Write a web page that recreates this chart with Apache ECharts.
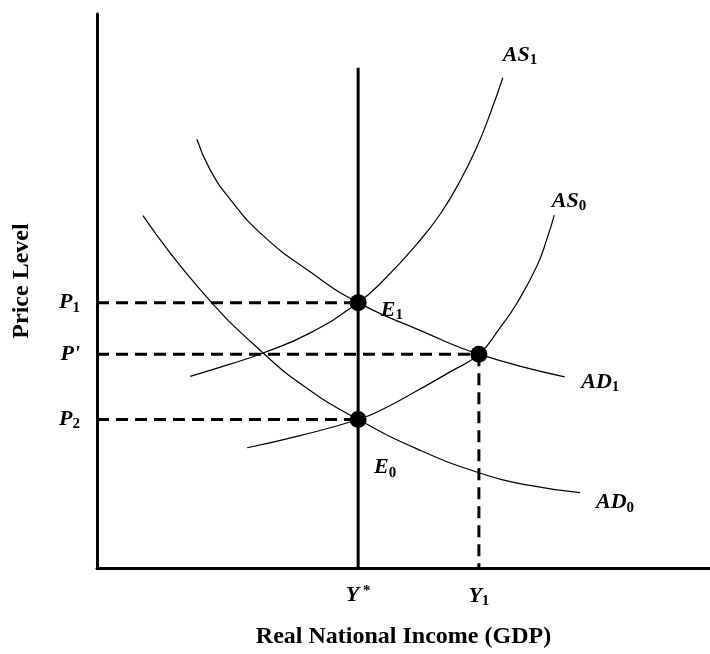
<!DOCTYPE html>
<html>
<head>
<meta charset="utf-8">
<script src="https://cdn.jsdelivr.net/npm/echarts@6/dist/echarts.min.js"></script>
<style>
  html, body { margin: 0; padding: 0; background: #fff; }
  #chart { width: 710px; height: 654px; }
</style>
</head>
<body>
<div id="chart"></div>
<script>
// ***** AS / AD 模型数据 (0-100 的相对刻度) *****
var Ystar = 42.6;
var Y1 = 62.3;
var P1 = 47.9;
var Pprime = 38.6;
var P2 = 26.8;
var ystarTop = 90.3;

var as1 = [[15.2, 34.6], [21.7, 36.8], [27.1, 38.8], [34.7, 42.4], [42.6, 47.9], [46.7, 51.9], [52.2, 58.5],
    [56.0, 63.9], [59.2, 69.8], [62.0, 76.1], [64.1, 81.9], [66.2, 88.5]];
var as0 = [[24.5, 21.7], [33.1, 23.9], [42.6, 26.8], [46.7, 28.7], [52.2, 32.0], [57.6, 35.4], [62.3, 38.6],
    [65.7, 43.3], [68.5, 47.8], [71.8, 54.6], [73.4, 59.4], [74.6, 63.7]];
var ad1 = [[16.3, 77.4], [18.4, 72.0], [21.7, 66.6], [27.1, 60.0], [34.7, 53.5], [42.6, 47.9], [52.7, 42.9],
    [62.3, 38.6], [76.3, 34.5]];
var ad0 = [[7.5, 63.6], [16.8, 50.3], [27.1, 38.8], [34.7, 32.1], [42.6, 26.8], [52.2, 21.5], [62.3, 17.2],
    [70.6, 14.9], [78.8, 13.6]];

var curveNames = ['{m|AS}{s|1}', '{m|AS}{s|0}', '{m|AD}{s|1}', '{m|AD}{s|0}', '{m|E}{s|1}', '{m|E}{s|0}'];
var labelSpots = [[69.0, 92.6], [77.0, 66.2], [82.1, 33.6], [84.5, 11.8], [48.1, 46.5], [47.0, 18.1]];

var chart = echarts.init(document.getElementById('chart'));

var serif = '"Liberation Serif", "DejaVu Serif", serif';
var rich = {
    m: { fontFamily: serif, fontSize: 22, fontWeight: 'bold', fontStyle: 'italic', color: '#000' },
    s: { fontFamily: serif, fontSize: 15, fontWeight: 'bold', color: '#000', padding: [10, 0, 0, 0] },
    t: { fontFamily: serif, fontSize: 15, fontWeight: 'bold', color: '#000', padding: [0, 0, 8, 0] }
};

function curve(data) {
    return {
        type: 'line',
        data: data,
        smooth: 0.5,
        symbol: 'none',
        lineStyle: { color: '#000', width: 1.2 }
    };
}

function dashed(data) {
    return {
        type: 'line',
        data: data,
        symbol: 'none',
        lineStyle: { color: '#000', width: 3, type: [12, 7] }
    };
}

var option = {
    animation: false,
    backgroundColor: '#fff',
    grid: { left: 97, right: 0, top: 14, bottom: 83 },
    xAxis: {
        type: 'value',
        min: 0,
        max: 100,
        name: 'Real National Income (GDP)',
        nameLocation: 'middle',
        nameGap: 57,
        nameTextStyle: { fontFamily: serif, fontSize: 24, fontWeight: 'bold', color: '#000' },
        axisLine: { show: true, lineStyle: { color: '#000', width: 3 } },
        axisTick: { show: false },
        splitLine: { show: false },
        axisLabel: {
            customValues: [Ystar, Y1],
            margin: 16,
            formatter: function (v) {
                return v === Ystar ? '{m|Y}{t| *}' : '{m|Y}{s|1}';
            },
            rich: rich
        }
    },
    yAxis: {
        type: 'value',
        min: 0,
        max: 100,
        name: 'Price Level',
        nameLocation: 'middle',
        nameGap: 63,
        nameTextStyle: { fontFamily: serif, fontSize: 24, fontWeight: 'bold', color: '#000', padding: [0, 0, 0, 20] },
        axisLine: { show: true, lineStyle: { color: '#000', width: 3 } },
        axisTick: { show: false },
        splitLine: { show: false },
        axisLabel: {
            customValues: [P2, Pprime, P1],
            margin: 17,
            formatter: function (v) {
                if (v === P1) return '{m|P}{s|1}';
                if (v === P2) return '{m|P}{s|2}';
                return "{m|P'}";
            },
            rich: rich
        }
    },
    series: [
        curve(as1),
        curve(as0),
        curve(ad1),
        curve(ad0),
        dashed([[0, P1], [Ystar, P1]]),
        dashed([[0, Pprime], [Y1, Pprime]]),
        dashed([[0, P2], [Ystar, P2]]),
        dashed([[Y1, Pprime], [Y1, 0]]),
        {
            type: 'line',
            data: [[Ystar, 0], [Ystar, ystarTop]],
            symbol: 'none',
            lineStyle: { color: '#000', width: 3 }
        },
        {
            type: 'scatter',
            data: [[Ystar, P1], [Y1, Pprime], [Ystar, P2]],
            symbolSize: 17,
            itemStyle: { color: '#000', opacity: 1 },
            z: 5
        },
        {
            type: 'scatter',
            data: labelSpots.map(function (p, i) { return [p[0], p[1], curveNames[i]]; }),
            symbolSize: 0,
            itemStyle: { opacity: 1 },
            label: {
                show: true,
                position: 'inside',
                color: '#000',
                formatter: function (p) { return p.data[2]; },
                rich: rich
            }
        }
    ]
};
chart.setOption(option);
</script>
</body>
</html>
